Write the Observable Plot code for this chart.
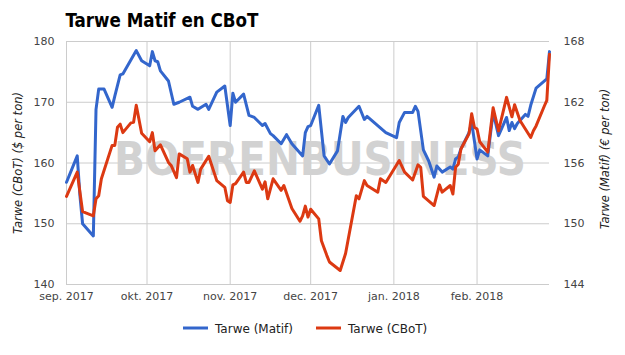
<!DOCTYPE html>
<html><head><meta charset="utf-8">
<script src="https://cdn.jsdelivr.net/npm/d3@7"></script>
<script src="https://cdn.jsdelivr.net/npm/@observablehq/plot@0.6"></script>
<style>body{margin:0;background:#fff;}</style>
</head><body><div id="chart"></div>
<script>
const title = "Tarwe Matif en CBoT";
const leftLabel = "Tarwe (CBoT) ($ per ton)";
const rightLabel = "Tarwe (Matif) (€ per ton)";
const watermark = "BOERENBUSINESS";
const seriesNames = ["Tarwe (Matif)", "Tarwe (CBoT)"];
const seriesColors = ["#3366cc", "#dc3912"];
const leftTicks = [140, 150, 160, 170, 180];
const rightTicks = [144, 150, 156, 162, 168];
const monthTicks = ["2017-09-01","2017-10-01","2017-11-01","2017-12-01","2018-01-01","2018-02-01"];
const monthLabels = ["sep. 2017","okt. 2017","nov. 2017","dec. 2017","jan. 2018","feb. 2018"];
const xDomain = ["2017-09-01", "2018-02-28"];

const matifDates = ["2017-09-01","2017-09-05","2017-09-06","2017-09-07","2017-09-11","2017-09-12","2017-09-13","2017-09-15","2017-09-18","2017-09-19","2017-09-21","2017-09-22","2017-09-27","2017-09-29",
"2017-10-02","2017-10-03","2017-10-04","2017-10-05","2017-10-06","2017-10-09","2017-10-11","2017-10-13","2017-10-17","2017-10-18","2017-10-20","2017-10-23","2017-10-24","2017-10-27","2017-10-30",
"2017-11-01","2017-11-02","2017-11-03","2017-11-06","2017-11-08","2017-11-10","2017-11-13","2017-11-14","2017-11-16","2017-11-17","2017-11-20","2017-11-22","2017-11-24","2017-11-28","2017-11-29","2017-11-30",
"2017-12-01","2017-12-04","2017-12-06","2017-12-08","2017-12-11","2017-12-13","2017-12-14","2017-12-15","2017-12-19","2017-12-21","2017-12-22","2017-12-29",
"2018-01-02","2018-01-03","2018-01-05","2018-01-08","2018-01-09","2018-01-10","2018-01-12","2018-01-14","2018-01-16","2018-01-17","2018-01-19","2018-01-22","2018-01-23","2018-01-24","2018-01-25","2018-01-26","2018-01-29","2018-01-30",
"2018-02-01","2018-02-02","2018-02-05","2018-02-07","2018-02-09","2018-02-12","2018-02-13","2018-02-14","2018-02-15","2018-02-16","2018-02-19","2018-02-20","2018-02-21","2018-02-23","2018-02-27","2018-02-28"];
const matifValues = [154.1,156.7,152.8,150.0,148.8,161.3,163.3,163.3,161.5,162.6,164.7,164.8,167.1,166.1,
165.6,167.0,166.1,166.0,165.1,164.1,161.8,162.0,162.5,161.6,161.3,161.8,161.3,163.0,163.6,
159.7,162.9,162.0,162.8,160.7,160.5,159.7,159.9,158.9,158.7,157.9,158.8,157.9,156.7,159.0,159.6,
159.7,161.7,156.7,155.9,157.2,160.6,160.0,160.5,161.6,160.3,160.6,159.0,
158.5,160.0,161.0,161.0,161.6,161.1,157.3,156.2,154.6,155.7,155.1,155.6,155.4,156.4,156.6,157.4,159.0,160.0,
156.4,157.3,156.7,161.0,158.7,160.5,159.2,160.0,159.4,159.9,160.8,160.6,161.7,163.4,164.3,167.0];

const cbotDates = ["2017-09-01","2017-09-05","2017-09-07","2017-09-11","2017-09-12","2017-09-13","2017-09-14","2017-09-18","2017-09-19","2017-09-20","2017-09-21","2017-09-22","2017-09-25","2017-09-26","2017-09-27","2017-09-29",
"2017-10-02","2017-10-03","2017-10-04","2017-10-06","2017-10-09","2017-10-10","2017-10-12","2017-10-13","2017-10-16","2017-10-17","2017-10-18","2017-10-20","2017-10-21","2017-10-24","2017-10-27","2017-10-30","2017-10-31",
"2017-11-01","2017-11-02","2017-11-03","2017-11-06","2017-11-07","2017-11-08","2017-11-10","2017-11-13","2017-11-14","2017-11-15","2017-11-17","2017-11-20","2017-11-21","2017-11-24","2017-11-27","2017-11-28","2017-11-29","2017-11-30",
"2017-12-01","2017-12-04","2017-12-05","2017-12-07","2017-12-08","2017-12-12","2017-12-13","2017-12-14","2017-12-18","2017-12-19","2017-12-21","2017-12-22","2017-12-26","2017-12-27","2017-12-29",
"2018-01-03","2018-01-05","2018-01-08","2018-01-10","2018-01-11","2018-01-12","2018-01-16","2018-01-18","2018-01-19","2018-01-22","2018-01-23","2018-01-24","2018-01-25","2018-01-26","2018-01-29","2018-01-30","2018-01-31",
"2018-02-01","2018-02-02","2018-02-05","2018-02-07","2018-02-09","2018-02-12","2018-02-14","2018-02-15","2018-02-17","2018-02-21","2018-02-22","2018-02-23","2018-02-26","2018-02-27","2018-02-28"];
const cbotValues = [154.5,158.5,152.0,151.3,154.1,154.6,157.4,162.9,162.9,165.9,166.4,165.0,166.6,166.7,169.5,164.9,
163.5,165.0,162.0,163.0,160.1,159.6,157.6,161.5,160.7,158.5,159.6,156.8,159.0,161.1,157.1,156.0,153.8,
153.5,156.4,156.6,158.5,156.8,156.8,158.7,155.7,156.9,154.1,157.4,155.5,156.3,152.5,150.4,151.3,152.9,151.1,
152.4,150.8,147.2,144.8,143.7,142.3,143.7,145.1,154.6,154.1,157.1,156.3,155.2,157.4,156.8,
160.4,158.5,157.2,159.7,159.3,154.5,153.0,156.4,155.2,156.3,154.9,159.3,159.8,162.3,164.8,168.1,165.9,
165.6,163.5,161.8,169.1,165.3,170.8,167.6,169.6,167.0,164.2,165.3,166.1,169.3,170.3,177.9];

// map € (right axis) onto the shared left scale
const eurToLeft = v => leftTicks[0] + (v - rightTicks[0]) * (leftTicks[1] - leftTicks[0]) / (rightTicks[1] - rightTicks[0]);
const leftToEur = v => rightTicks[0] + (v - leftTicks[0]) * (rightTicks[1] - rightTicks[0]) / (leftTicks[1] - leftTicks[0]);

const parse = d3.utcParse("%Y-%m-%d");
const matif = matifDates.map((d, i) => ({date: parse(d), value: matifValues[i]}));
const cbot = cbotDates.map((d, i) => ({date: parse(d), value: cbotValues[i]}));
const months = monthTicks.map(parse);
const monthLabelMap = new Map(months.map((d, i) => [+d, monthLabels[i]]));

const W = 625, H = 355;
const plot = Plot.plot({
  width: W, height: H,
  marginLeft: 66, marginRight: 76, marginTop: 41, marginBottom: 71,
  style: {fontFamily: "'DejaVu Sans', Verdana, sans-serif", fontSize: "11px", color: "#444", background: "#fff"},
  x: {type: "utc", domain: xDomain.map(parse)},
  y: {domain: [leftTicks[0], leftTicks[leftTicks.length - 1]]},
  marks: [
    Plot.gridY(leftTicks, {stroke: "#cccccc", strokeOpacity: 1, strokeWidth: 1}),
    Plot.gridX(months, {stroke: "#cccccc", strokeOpacity: 1, strokeWidth: 1}),
    Plot.text([watermark], {frameAnchor: "middle", dx: 12, dy: -3, text: d => d, fill: "#d2d2d2", fontSize: 46, fontWeight: "bold", fontFamily: "'DejaVu Sans'"}),
    Plot.line(matif, {x: "date", y: d => eurToLeft(d.value), stroke: seriesColors[0], strokeWidth: 3, strokeLinejoin: "round"}),
    Plot.line(cbot, {x: "date", y: "value", stroke: seriesColors[1], strokeWidth: 3, strokeLinejoin: "round"}),
    Plot.axisY(leftTicks, {anchor: "left", tickSize: 0, tickPadding: 12, label: null, fontSize: 11}),
    Plot.axisY(rightTicks.map(eurToLeft), {anchor: "right", tickSize: 0, tickPadding: 14, label: null, tickFormat: d => String(Math.round(leftToEur(d)))}),
    Plot.axisX(months, {anchor: "bottom", tickSize: 0, tickPadding: 8, label: null, tickFormat: d => monthLabelMap.get(+d)})
  ]
});

const svg = d3.select(plot);
svg.selectAll("text").filter(function() { return this.textContent === watermark; })
  .attr("textLength", 412).attr("lengthAdjust", "spacingAndGlyphs");

svg.append("text").text(title)
  .attr("x", 65.5).attr("y", 26.7).attr("text-anchor", "start")
  .attr("font-family", "'DejaVu Sans Condensed', 'DejaVu Sans', sans-serif")
  .attr("font-weight", "bold").attr("font-size", 19).attr("fill", "#000")
  .attr("textLength", 193).attr("lengthAdjust", "spacingAndGlyphs");

svg.append("text").text(leftLabel)
  .attr("transform", "translate(22,163) rotate(-90)")
  .attr("text-anchor", "middle").attr("font-style", "italic")
  .attr("font-size", 11.5).attr("fill", "#222");
svg.append("text").text(rightLabel)
  .attr("transform", "translate(609,159) rotate(-90)")
  .attr("text-anchor", "middle").attr("font-style", "italic")
  .attr("font-size", 11.5).attr("fill", "#222");

const legendItems = [{x: 183, name: seriesNames[0], color: seriesColors[0]}, {x: 316, name: seriesNames[1], color: seriesColors[1]}];
const lg = svg.append("g");
legendItems.forEach(it => {
  lg.append("line").attr("x1", it.x).attr("x2", it.x + 25).attr("y1", 328).attr("y2", 328)
    .attr("stroke", it.color).attr("stroke-width", 3);
  lg.append("text").text(it.name).attr("x", it.x + 32).attr("y", 332.5).attr("text-anchor", "start")
    .attr("font-size", 12).attr("fill", "#222");
});

document.getElementById("chart").appendChild(plot);
</script>
</body></html>
